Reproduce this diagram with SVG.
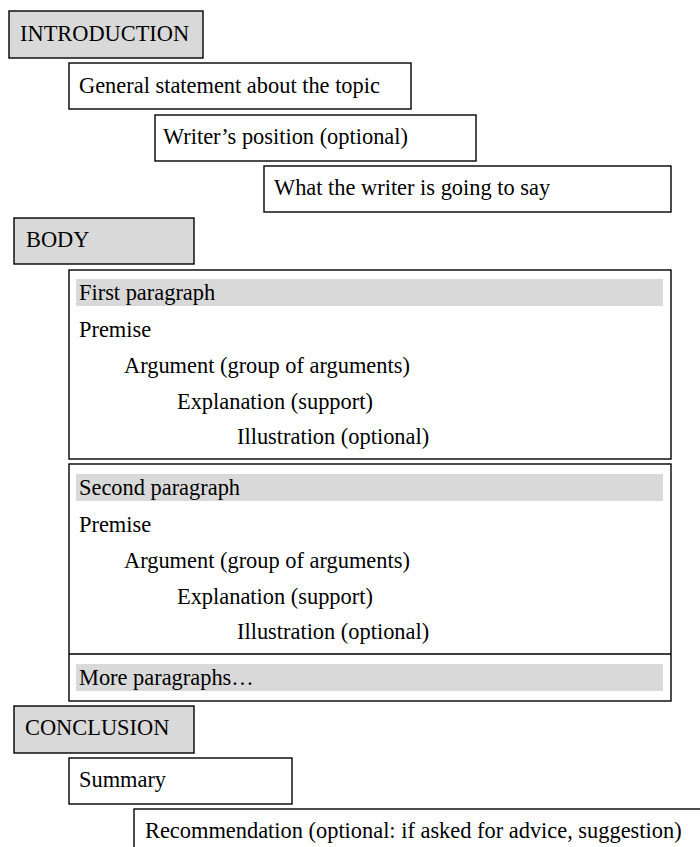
<svg xmlns="http://www.w3.org/2000/svg" width="700" height="847" viewBox="0 0 700 847" font-family="'Liberation Serif', 'Times New Roman', serif" font-size="22.4">
<style>
text{font-family:'Liberation Serif','Times New Roman',Times,serif;font-size:22.4px;fill:#000}
.box{fill:#fff;stroke:#000;stroke-width:1.4}
.head{fill:#d9d9d9;stroke:#000;stroke-width:1.4}
.band{fill:#d9d9d9;stroke:none}
.rule{stroke:#000;stroke-width:1.4}
</style>
<rect width="700" height="847" fill="#fff"/>
<g id="introduction"><rect class="head" x="9" y="11" width="194" height="47"/><text x="20" y="41">INTRODUCTION</text></g>
<g id="general"><rect class="box" x="69" y="63" width="342" height="46"/><text x="79" y="93">General statement about the topic</text></g>
<g id="position"><rect class="box" x="155" y="115" width="321" height="46"/><text x="163" y="144">Writer’s position (optional)</text></g>
<g id="whatsay"><rect class="box" x="264" y="166" width="407" height="46"/><text x="274" y="195">What the writer is going to say</text></g>
<g id="body"><rect class="head" x="14" y="218" width="180" height="46"/><text x="26" y="247">BODY</text></g>
<g id="first-paragraph">
<rect class="box" x="69" y="270" width="602" height="189"/>
<rect class="band" x="76" y="279" width="587" height="27"/>
<text x="79" y="300">First paragraph</text>
<text x="79" y="337">Premise</text>
<text x="124" y="373">Argument (group of arguments)</text>
<text x="177" y="409">Explanation (support)</text>
<text x="237" y="444">Illustration (optional)</text>
</g>
<g id="second-paragraph">
<rect class="box" x="69" y="464" width="602" height="237"/>
<rect class="band" x="76" y="474" width="587" height="27"/>
<text x="79" y="495">Second paragraph</text>
<text x="79" y="532">Premise</text>
<text x="124" y="568">Argument (group of arguments)</text>
<text x="177" y="604">Explanation (support)</text>
<text x="237" y="639">Illustration (optional)</text>
<line class="rule" x1="69" y1="654" x2="671" y2="654"/>
<rect class="band" x="76" y="664" width="587" height="27"/>
<text x="79" y="685">More paragraphs…</text>
</g>
<g id="conclusion"><rect class="head" x="14" y="706" width="180" height="47"/><text x="25" y="735">CONCLUSION</text></g>
<g id="summary"><rect class="box" x="69" y="758" width="223" height="46"/><text x="79" y="787">Summary</text></g>
<g id="recommendation"><rect class="box" x="134" y="809" width="600" height="60"/><text x="145" y="838">Recommendation (optional: if asked for advice, suggestion)</text></g>
<g id="connectors"/>
</svg>
